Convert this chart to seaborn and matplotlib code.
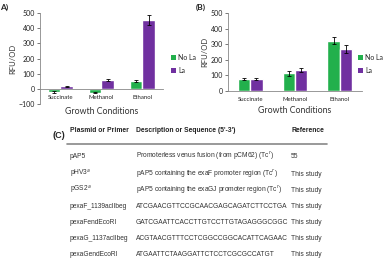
import matplotlib
matplotlib.use("Agg")
import matplotlib.pyplot as plt
import seaborn as sns
import pandas as pd
import numpy as np
from matplotlib.patches import Patch

sns.set_theme(style="white")
plt.rcParams['font.family'] = ['Lato', 'DejaVu Sans']

categories = ["Succinate", "Methanol", "Ethanol"]
conditions = ["No La", "La"]
a_nola = [-22, -25, 50]
a_la = [17, 57, 455]
a_nola_err = [5, 4, 8]
a_la_err = [4, 7, 32]
b_nola = [78, 113, 323]
b_la = [75, 135, 268]
b_nola_err = [8, 14, 22]
b_la_err = [6, 12, 25]

table_header = ["Plasmid or Primer", "Description or Sequence (5'-3')", "Reference"]
table_col1 = ["pAP5", "pHV3$^{a}$", "pGS2$^{a}$", "pexaF_1139aclIbeg", "pexaFendEcoRI",
              "pexaG_1137aclIbeg", "pexaGendEcoRI"]
table_col2 = ["Promoterless venus fusion (from pCM62) (Tc$^{r}$)",
              "pAP5 containing the exaF promoter region (Tc$^{r}$)",
              "pAP5 containing the exaGJ promoter region (Tc$^{r}$)",
              "ATCGAACGTTCCGCAACGAGCAGATCTTCCTGA",
              "GATCGAATTCACCTTGTCCTTGTAGAGGGCGGC",
              "ACGTAACGTTTCCTCGGCCGGCACATTCAGAAC",
              "ATGAATTCTAAGGATTCTCCTCGCGCCATGT"]
table_col3 = ["55", "This study", "This study", "This study", "This study",
              "This study", "This study"]

colors = {"No La": "#22b04c", "La": "#7030a0"}
W, H = 391, 267
fig = plt.figure(figsize=(W / 100, H / 100), dpi=100)


def fx(px):
    return px / W


def fy(py):
    return 1 - py / H


def panel(rect, nola, la, nola_err, la_err, ylim, width, xpad):
    ax = fig.add_axes(rect)
    df = pd.DataFrame({
        "cond": categories * 2,
        "hue": ["No La"] * 3 + ["La"] * 3,
        "val": nola + la,
    })
    sns.barplot(data=df, x="cond", y="val", hue="hue", order=categories,
                hue_order=conditions, palette=colors, width=width,
                errorbar=None, ax=ax, legend=False, saturation=1)
    errs = nola_err + la_err
    vals = nola + la
    for p, v, e in zip(ax.patches, vals, errs):
        cx = p.get_x() + p.get_width() / 2
        ax.errorbar(cx, v, yerr=e, color="black", capsize=1.5, elinewidth=0.6,
                    capthick=0.6, fmt="none")
    ax.set_ylim(*ylim)
    ax.set_xlim(-0.5, 2.5)
    ax.set_yticks(np.arange(ylim[0], ylim[1] + 1, 100))
    ax.tick_params(axis="y", labelsize=5, length=2, width=0.5, pad=1.5,
                   left=True, colors="#444444", labelcolor="#222222")
    ax.tick_params(axis="x", labelsize=4.3, length=0, pad=xpad, labelcolor="#222222")
    for s in ["top", "right"]:
        ax.spines[s].set_visible(False)
    for s in ["left", "bottom"]:
        ax.spines[s].set_linewidth(0.6)
        ax.spines[s].set_color("#888888")
    ax.spines["bottom"].set_position(("data", 0))
    ax.set_xlabel("Growth Conditions", fontsize=6.3, color="#333333")
    ax.set_ylabel("RFU/OD", fontsize=5.5, labelpad=2, color="#333333")
    ax.set_facecolor("none")
    return ax


axA = panel([fx(40), fy(104), fx(163 - 40), (104 - 13) / H],
            a_nola, a_la, a_nola_err, a_la_err, (-100, 500), 0.6, 4.5)
axA.xaxis.set_label_coords(0.5, -0.035)

axB = panel([fx(228), fy(91), fx(362 - 228), (91 - 13) / H],
            b_nola, b_la, b_nola_err, b_la_err, (0, 500), 0.55, 4.5)
axB.xaxis.set_label_coords(0.5, -0.19)

for x0 in (172, 359):
    handles = [Patch(facecolor=colors[c], edgecolor="none") for c in conditions]
    fig.legend(handles, conditions, loc="center left",
               bbox_to_anchor=(fx(x0 - 4), fy(64)), frameon=False, fontsize=5,
               handlelength=0.8, handleheight=0.8, handletextpad=0.3,
               labelspacing=0.9, borderaxespad=0)

fig.text(fx(0), fy(7), "A)", fontsize=6, fontweight="bold", va="center", ha="left")
fig.text(fx(196), fy(7), "(B)", fontsize=6, fontweight="bold", va="center", ha="left")

tfont = ['Liberation Sans', 'DejaVu Sans']
fig.text(fx(52), fy(136), "(C)", fontsize=6.5, fontweight="bold", va="center",
         ha="left", family=tfont)
col_x = [70, 136, 291]
for x, h in zip(col_x, table_header):
    fig.text(fx(x), fy(131), h, fontsize=4.9, fontweight="bold", va="center",
             ha="left", family=tfont, color="#222222")
fig.add_artist(plt.Line2D([fx(67), fx(327)], [fy(144), fy(144)], color="#888888",
                          lw=1.2))
row_y = [156, 174, 190, 206, 222, 238, 254]
for y, c1, c2, c3 in zip(row_y, table_col1, table_col2, table_col3):
    for x, t in zip(col_x, (c1, c2, c3)):
        fig.text(fx(x), fy(y), t, fontsize=4.8, va="center", ha="left",
                 family=tfont, color="#333333")

fig.savefig("out.png", dpi=100)
